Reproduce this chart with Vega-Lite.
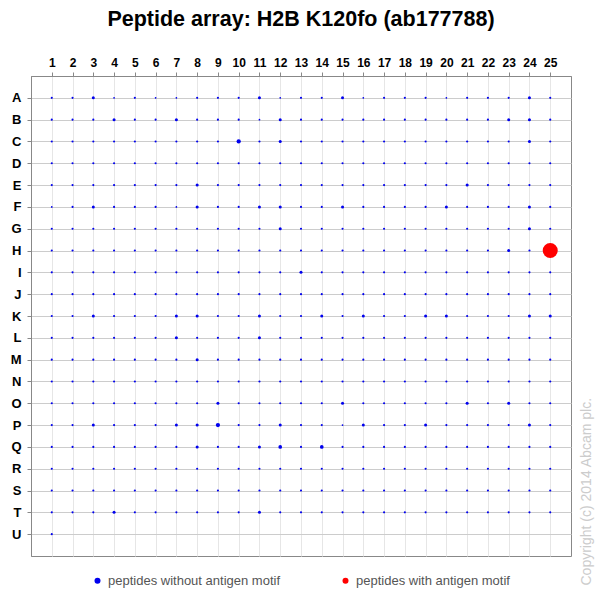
{
  "$schema": "https://vega.github.io/schema/vega-lite/v6.json",
  "width": 540,
  "height": 480,
  "autosize": "none",
  "padding": {"left": 31, "top": 76, "right": 28, "bottom": 43},
  "background": "white",
  "title": {"text": "Peptide array: H2B K120fo (ab177788)", "font": "Liberation Sans", "fontSize": 21.5, "fontWeight": "bold", "color": "#000000", "anchor": "middle", "offset": 26},
  "encoding": {
    "x": {
      "field": "col", "type": "ordinal",
      "scale": {"type": "point", "padding": 1},
      "axis": {"orient": "top", "title": null, "labelAngle": 0, "labelFont": "Liberation Sans", "labelFontWeight": "bold", "labelFontSize": 12, "labelColor": "#000000", "labelPadding": 3, "tickSize": 4, "tickColor": "#888888", "domainColor": "#888888", "grid": true, "gridColor": "#e6e6e6"}
    },
    "size": {"field": "signal", "type": "quantitative", "scale": {"domain": [0, 100], "range": [0, 227]}, "legend": null}
  },
  "layer": [
    {
      "data": {"values": [
        {"row":"A","col":1,"signal":2},{"row":"A","col":2,"signal":2},{"row":"A","col":3,"signal":4},{"row":"A","col":4,"signal":1.3},{"row":"A","col":5,"signal":2},{"row":"A","col":6,"signal":1.3},{"row":"A","col":7,"signal":1.3},{"row":"A","col":8,"signal":2},{"row":"A","col":9,"signal":2},{"row":"A","col":10,"signal":2},{"row":"A","col":11,"signal":4},{"row":"A","col":12,"signal":1.3},{"row":"A","col":13,"signal":2},{"row":"A","col":14,"signal":2},{"row":"A","col":15,"signal":4},{"row":"A","col":16,"signal":1.3},{"row":"A","col":17,"signal":2},{"row":"A","col":18,"signal":2},{"row":"A","col":19,"signal":2},{"row":"A","col":20,"signal":1.3},{"row":"A","col":21,"signal":2},{"row":"A","col":22,"signal":2},{"row":"A","col":23,"signal":2},{"row":"A","col":24,"signal":4},{"row":"A","col":25,"signal":2},
        {"row":"B","col":1,"signal":2},{"row":"B","col":2,"signal":2},{"row":"B","col":3,"signal":2},{"row":"B","col":4,"signal":4},{"row":"B","col":5,"signal":2},{"row":"B","col":6,"signal":2},{"row":"B","col":7,"signal":4},{"row":"B","col":8,"signal":2},{"row":"B","col":9,"signal":2},{"row":"B","col":10,"signal":2},{"row":"B","col":11,"signal":1.3},{"row":"B","col":12,"signal":4},{"row":"B","col":13,"signal":2},{"row":"B","col":14,"signal":2},{"row":"B","col":15,"signal":2},{"row":"B","col":16,"signal":2},{"row":"B","col":17,"signal":2},{"row":"B","col":18,"signal":2},{"row":"B","col":19,"signal":2},{"row":"B","col":20,"signal":2},{"row":"B","col":21,"signal":2},{"row":"B","col":22,"signal":2},{"row":"B","col":23,"signal":4},{"row":"B","col":24,"signal":4},{"row":"B","col":25,"signal":2},
        {"row":"C","col":1,"signal":2},{"row":"C","col":2,"signal":2},{"row":"C","col":3,"signal":2},{"row":"C","col":4,"signal":2},{"row":"C","col":5,"signal":2},{"row":"C","col":6,"signal":2},{"row":"C","col":7,"signal":2},{"row":"C","col":8,"signal":2},{"row":"C","col":9,"signal":2},{"row":"C","col":10,"signal":8},{"row":"C","col":11,"signal":2},{"row":"C","col":12,"signal":4},{"row":"C","col":13,"signal":2},{"row":"C","col":14,"signal":2},{"row":"C","col":15,"signal":2},{"row":"C","col":16,"signal":2},{"row":"C","col":17,"signal":2},{"row":"C","col":18,"signal":2},{"row":"C","col":19,"signal":2},{"row":"C","col":20,"signal":2},{"row":"C","col":21,"signal":2},{"row":"C","col":22,"signal":2},{"row":"C","col":23,"signal":2},{"row":"C","col":24,"signal":4},{"row":"C","col":25,"signal":2},
        {"row":"D","col":1,"signal":2},{"row":"D","col":2,"signal":2},{"row":"D","col":3,"signal":2},{"row":"D","col":4,"signal":2},{"row":"D","col":5,"signal":2},{"row":"D","col":6,"signal":2},{"row":"D","col":7,"signal":2},{"row":"D","col":8,"signal":2},{"row":"D","col":9,"signal":2},{"row":"D","col":10,"signal":2},{"row":"D","col":11,"signal":2},{"row":"D","col":12,"signal":2},{"row":"D","col":13,"signal":2},{"row":"D","col":14,"signal":2},{"row":"D","col":15,"signal":2},{"row":"D","col":16,"signal":2},{"row":"D","col":17,"signal":2},{"row":"D","col":18,"signal":2},{"row":"D","col":19,"signal":2},{"row":"D","col":20,"signal":2},{"row":"D","col":21,"signal":2},{"row":"D","col":22,"signal":2},{"row":"D","col":23,"signal":2},{"row":"D","col":24,"signal":2},{"row":"D","col":25,"signal":2},
        {"row":"E","col":1,"signal":2},{"row":"E","col":2,"signal":2},{"row":"E","col":3,"signal":2},{"row":"E","col":4,"signal":2},{"row":"E","col":5,"signal":2},{"row":"E","col":6,"signal":2},{"row":"E","col":7,"signal":2},{"row":"E","col":8,"signal":4},{"row":"E","col":9,"signal":2},{"row":"E","col":10,"signal":2},{"row":"E","col":11,"signal":2},{"row":"E","col":12,"signal":2},{"row":"E","col":13,"signal":2},{"row":"E","col":14,"signal":2},{"row":"E","col":15,"signal":2},{"row":"E","col":16,"signal":2},{"row":"E","col":17,"signal":2},{"row":"E","col":18,"signal":2},{"row":"E","col":19,"signal":2},{"row":"E","col":20,"signal":2},{"row":"E","col":21,"signal":4},{"row":"E","col":22,"signal":2},{"row":"E","col":23,"signal":2},{"row":"E","col":24,"signal":2},{"row":"E","col":25,"signal":2},
        {"row":"F","col":1,"signal":1.3},{"row":"F","col":2,"signal":2},{"row":"F","col":3,"signal":4},{"row":"F","col":4,"signal":2},{"row":"F","col":5,"signal":2},{"row":"F","col":6,"signal":2},{"row":"F","col":7,"signal":1.3},{"row":"F","col":8,"signal":4},{"row":"F","col":9,"signal":2},{"row":"F","col":10,"signal":2},{"row":"F","col":11,"signal":4},{"row":"F","col":12,"signal":4},{"row":"F","col":13,"signal":2},{"row":"F","col":14,"signal":2},{"row":"F","col":15,"signal":4},{"row":"F","col":16,"signal":2},{"row":"F","col":17,"signal":2},{"row":"F","col":18,"signal":2},{"row":"F","col":19,"signal":2},{"row":"F","col":20,"signal":4},{"row":"F","col":21,"signal":2},{"row":"F","col":22,"signal":2},{"row":"F","col":23,"signal":2},{"row":"F","col":24,"signal":4},{"row":"F","col":25,"signal":2},
        {"row":"G","col":1,"signal":2},{"row":"G","col":2,"signal":2},{"row":"G","col":3,"signal":2},{"row":"G","col":4,"signal":2},{"row":"G","col":5,"signal":2},{"row":"G","col":6,"signal":2},{"row":"G","col":7,"signal":2},{"row":"G","col":8,"signal":2},{"row":"G","col":9,"signal":2},{"row":"G","col":10,"signal":2},{"row":"G","col":11,"signal":2},{"row":"G","col":12,"signal":4},{"row":"G","col":13,"signal":2},{"row":"G","col":14,"signal":2},{"row":"G","col":15,"signal":2},{"row":"G","col":16,"signal":2},{"row":"G","col":17,"signal":2},{"row":"G","col":18,"signal":2},{"row":"G","col":19,"signal":2},{"row":"G","col":20,"signal":2},{"row":"G","col":21,"signal":2},{"row":"G","col":22,"signal":2},{"row":"G","col":23,"signal":2},{"row":"G","col":24,"signal":4},{"row":"G","col":25,"signal":2},
        {"row":"H","col":1,"signal":2},{"row":"H","col":2,"signal":2},{"row":"H","col":3,"signal":2},{"row":"H","col":4,"signal":2},{"row":"H","col":5,"signal":2},{"row":"H","col":6,"signal":2},{"row":"H","col":7,"signal":2},{"row":"H","col":8,"signal":2},{"row":"H","col":9,"signal":2},{"row":"H","col":10,"signal":2},{"row":"H","col":11,"signal":2},{"row":"H","col":12,"signal":2},{"row":"H","col":13,"signal":2},{"row":"H","col":14,"signal":2},{"row":"H","col":15,"signal":2},{"row":"H","col":16,"signal":2},{"row":"H","col":17,"signal":2},{"row":"H","col":18,"signal":2},{"row":"H","col":19,"signal":2},{"row":"H","col":20,"signal":2},{"row":"H","col":21,"signal":2},{"row":"H","col":22,"signal":2},{"row":"H","col":23,"signal":4},{"row":"H","col":24,"signal":2},
        {"row":"I","col":1,"signal":2},{"row":"I","col":2,"signal":2},{"row":"I","col":3,"signal":2},{"row":"I","col":4,"signal":2},{"row":"I","col":5,"signal":2},{"row":"I","col":6,"signal":2},{"row":"I","col":7,"signal":2},{"row":"I","col":8,"signal":2},{"row":"I","col":9,"signal":2},{"row":"I","col":10,"signal":2},{"row":"I","col":11,"signal":2},{"row":"I","col":12,"signal":2},{"row":"I","col":13,"signal":4},{"row":"I","col":14,"signal":2},{"row":"I","col":15,"signal":2},{"row":"I","col":16,"signal":2},{"row":"I","col":17,"signal":2},{"row":"I","col":18,"signal":2},{"row":"I","col":19,"signal":2},{"row":"I","col":20,"signal":2},{"row":"I","col":21,"signal":2},{"row":"I","col":22,"signal":2},{"row":"I","col":23,"signal":2},{"row":"I","col":24,"signal":2},{"row":"I","col":25,"signal":2},
        {"row":"J","col":1,"signal":2},{"row":"J","col":2,"signal":2},{"row":"J","col":3,"signal":2},{"row":"J","col":4,"signal":2},{"row":"J","col":5,"signal":2},{"row":"J","col":6,"signal":2},{"row":"J","col":7,"signal":2},{"row":"J","col":8,"signal":2},{"row":"J","col":9,"signal":2},{"row":"J","col":10,"signal":2},{"row":"J","col":11,"signal":2},{"row":"J","col":12,"signal":2},{"row":"J","col":13,"signal":2},{"row":"J","col":14,"signal":2},{"row":"J","col":15,"signal":2},{"row":"J","col":16,"signal":2},{"row":"J","col":17,"signal":2},{"row":"J","col":18,"signal":2},{"row":"J","col":19,"signal":2},{"row":"J","col":20,"signal":2},{"row":"J","col":21,"signal":2},{"row":"J","col":22,"signal":2},{"row":"J","col":23,"signal":2},{"row":"J","col":24,"signal":2},{"row":"J","col":25,"signal":2},
        {"row":"K","col":1,"signal":2},{"row":"K","col":2,"signal":2},{"row":"K","col":3,"signal":4},{"row":"K","col":4,"signal":2},{"row":"K","col":5,"signal":2},{"row":"K","col":6,"signal":2},{"row":"K","col":7,"signal":4},{"row":"K","col":8,"signal":4},{"row":"K","col":9,"signal":2},{"row":"K","col":10,"signal":2},{"row":"K","col":11,"signal":4},{"row":"K","col":12,"signal":2},{"row":"K","col":13,"signal":2},{"row":"K","col":14,"signal":4},{"row":"K","col":15,"signal":2},{"row":"K","col":16,"signal":4},{"row":"K","col":17,"signal":2},{"row":"K","col":18,"signal":2},{"row":"K","col":19,"signal":4},{"row":"K","col":20,"signal":4},{"row":"K","col":21,"signal":2},{"row":"K","col":22,"signal":2},{"row":"K","col":23,"signal":2},{"row":"K","col":24,"signal":4},{"row":"K","col":25,"signal":4},
        {"row":"L","col":1,"signal":2},{"row":"L","col":2,"signal":2},{"row":"L","col":3,"signal":2},{"row":"L","col":4,"signal":2},{"row":"L","col":5,"signal":2},{"row":"L","col":6,"signal":2},{"row":"L","col":7,"signal":4},{"row":"L","col":8,"signal":2},{"row":"L","col":9,"signal":2},{"row":"L","col":10,"signal":2},{"row":"L","col":11,"signal":4},{"row":"L","col":12,"signal":2},{"row":"L","col":13,"signal":2},{"row":"L","col":14,"signal":2},{"row":"L","col":15,"signal":2},{"row":"L","col":16,"signal":2},{"row":"L","col":17,"signal":2},{"row":"L","col":18,"signal":2},{"row":"L","col":19,"signal":2},{"row":"L","col":20,"signal":2},{"row":"L","col":21,"signal":2},{"row":"L","col":22,"signal":2},{"row":"L","col":23,"signal":2},{"row":"L","col":24,"signal":2},{"row":"L","col":25,"signal":2},
        {"row":"M","col":1,"signal":2},{"row":"M","col":2,"signal":2},{"row":"M","col":3,"signal":2},{"row":"M","col":4,"signal":2},{"row":"M","col":5,"signal":2},{"row":"M","col":6,"signal":2},{"row":"M","col":7,"signal":2},{"row":"M","col":8,"signal":4},{"row":"M","col":9,"signal":2},{"row":"M","col":10,"signal":2},{"row":"M","col":11,"signal":2},{"row":"M","col":12,"signal":2},{"row":"M","col":13,"signal":2},{"row":"M","col":14,"signal":2},{"row":"M","col":15,"signal":2},{"row":"M","col":16,"signal":2},{"row":"M","col":17,"signal":2},{"row":"M","col":18,"signal":2},{"row":"M","col":19,"signal":2},{"row":"M","col":20,"signal":2},{"row":"M","col":21,"signal":2},{"row":"M","col":22,"signal":2},{"row":"M","col":23,"signal":2},{"row":"M","col":24,"signal":2},{"row":"M","col":25,"signal":2},
        {"row":"N","col":1,"signal":2},{"row":"N","col":2,"signal":2},{"row":"N","col":3,"signal":2},{"row":"N","col":4,"signal":2},{"row":"N","col":5,"signal":2},{"row":"N","col":6,"signal":2},{"row":"N","col":7,"signal":2},{"row":"N","col":8,"signal":2},{"row":"N","col":9,"signal":2},{"row":"N","col":10,"signal":2},{"row":"N","col":11,"signal":2},{"row":"N","col":12,"signal":2},{"row":"N","col":13,"signal":2},{"row":"N","col":14,"signal":2},{"row":"N","col":15,"signal":2},{"row":"N","col":16,"signal":2},{"row":"N","col":17,"signal":2},{"row":"N","col":18,"signal":2},{"row":"N","col":19,"signal":2},{"row":"N","col":20,"signal":2},{"row":"N","col":21,"signal":2},{"row":"N","col":22,"signal":2},{"row":"N","col":23,"signal":2},{"row":"N","col":24,"signal":2},{"row":"N","col":25,"signal":2},
        {"row":"O","col":1,"signal":2},{"row":"O","col":2,"signal":2},{"row":"O","col":3,"signal":2},{"row":"O","col":4,"signal":2},{"row":"O","col":5,"signal":2},{"row":"O","col":6,"signal":2},{"row":"O","col":7,"signal":2},{"row":"O","col":8,"signal":2},{"row":"O","col":9,"signal":4},{"row":"O","col":10,"signal":2},{"row":"O","col":11,"signal":2},{"row":"O","col":12,"signal":2},{"row":"O","col":13,"signal":2},{"row":"O","col":14,"signal":2},{"row":"O","col":15,"signal":4},{"row":"O","col":16,"signal":2},{"row":"O","col":17,"signal":2},{"row":"O","col":18,"signal":2},{"row":"O","col":19,"signal":2},{"row":"O","col":20,"signal":2},{"row":"O","col":21,"signal":4},{"row":"O","col":22,"signal":2},{"row":"O","col":23,"signal":4},{"row":"O","col":24,"signal":2},{"row":"O","col":25,"signal":2},
        {"row":"P","col":1,"signal":2},{"row":"P","col":2,"signal":2},{"row":"P","col":3,"signal":4},{"row":"P","col":4,"signal":2},{"row":"P","col":5,"signal":2},{"row":"P","col":6,"signal":2},{"row":"P","col":7,"signal":4},{"row":"P","col":8,"signal":4},{"row":"P","col":9,"signal":8},{"row":"P","col":10,"signal":2},{"row":"P","col":11,"signal":2},{"row":"P","col":12,"signal":4},{"row":"P","col":13,"signal":2},{"row":"P","col":14,"signal":2},{"row":"P","col":15,"signal":1.3},{"row":"P","col":16,"signal":4},{"row":"P","col":17,"signal":2},{"row":"P","col":18,"signal":2},{"row":"P","col":19,"signal":4},{"row":"P","col":20,"signal":2},{"row":"P","col":21,"signal":2},{"row":"P","col":22,"signal":2},{"row":"P","col":23,"signal":2},{"row":"P","col":24,"signal":4},{"row":"P","col":25,"signal":2},
        {"row":"Q","col":1,"signal":2},{"row":"Q","col":2,"signal":2},{"row":"Q","col":3,"signal":2},{"row":"Q","col":4,"signal":2},{"row":"Q","col":5,"signal":2},{"row":"Q","col":6,"signal":2},{"row":"Q","col":7,"signal":2},{"row":"Q","col":8,"signal":4},{"row":"Q","col":9,"signal":2},{"row":"Q","col":10,"signal":2},{"row":"Q","col":11,"signal":4},{"row":"Q","col":12,"signal":6},{"row":"Q","col":13,"signal":2},{"row":"Q","col":14,"signal":6},{"row":"Q","col":15,"signal":2},{"row":"Q","col":16,"signal":2},{"row":"Q","col":17,"signal":2},{"row":"Q","col":18,"signal":2},{"row":"Q","col":19,"signal":2},{"row":"Q","col":20,"signal":2},{"row":"Q","col":21,"signal":2},{"row":"Q","col":22,"signal":2},{"row":"Q","col":23,"signal":2},{"row":"Q","col":24,"signal":2},{"row":"Q","col":25,"signal":2},
        {"row":"R","col":1,"signal":2},{"row":"R","col":2,"signal":2},{"row":"R","col":3,"signal":2},{"row":"R","col":4,"signal":2},{"row":"R","col":5,"signal":2},{"row":"R","col":6,"signal":2},{"row":"R","col":7,"signal":2},{"row":"R","col":8,"signal":2},{"row":"R","col":9,"signal":2},{"row":"R","col":10,"signal":2},{"row":"R","col":11,"signal":2},{"row":"R","col":12,"signal":2},{"row":"R","col":13,"signal":2},{"row":"R","col":14,"signal":2},{"row":"R","col":15,"signal":2},{"row":"R","col":16,"signal":2},{"row":"R","col":17,"signal":2},{"row":"R","col":18,"signal":2},{"row":"R","col":19,"signal":2},{"row":"R","col":20,"signal":2},{"row":"R","col":21,"signal":2},{"row":"R","col":22,"signal":2},{"row":"R","col":23,"signal":2},{"row":"R","col":24,"signal":2},{"row":"R","col":25,"signal":2},
        {"row":"S","col":1,"signal":2},{"row":"S","col":2,"signal":2},{"row":"S","col":3,"signal":2},{"row":"S","col":4,"signal":2},{"row":"S","col":5,"signal":2},{"row":"S","col":6,"signal":2},{"row":"S","col":7,"signal":2},{"row":"S","col":8,"signal":2},{"row":"S","col":9,"signal":2},{"row":"S","col":10,"signal":2},{"row":"S","col":11,"signal":2},{"row":"S","col":12,"signal":2},{"row":"S","col":13,"signal":2},{"row":"S","col":14,"signal":2},{"row":"S","col":15,"signal":2},{"row":"S","col":16,"signal":2},{"row":"S","col":17,"signal":2},{"row":"S","col":18,"signal":2},{"row":"S","col":19,"signal":2},{"row":"S","col":20,"signal":2},{"row":"S","col":21,"signal":2},{"row":"S","col":22,"signal":2},{"row":"S","col":23,"signal":2},{"row":"S","col":24,"signal":2},{"row":"S","col":25,"signal":2},
        {"row":"T","col":1,"signal":2},{"row":"T","col":2,"signal":2},{"row":"T","col":3,"signal":2},{"row":"T","col":4,"signal":4},{"row":"T","col":5,"signal":2},{"row":"T","col":6,"signal":2},{"row":"T","col":7,"signal":2},{"row":"T","col":8,"signal":2},{"row":"T","col":9,"signal":2},{"row":"T","col":10,"signal":2},{"row":"T","col":11,"signal":4},{"row":"T","col":12,"signal":2},{"row":"T","col":13,"signal":2},{"row":"T","col":14,"signal":2},{"row":"T","col":15,"signal":2},{"row":"T","col":16,"signal":2},{"row":"T","col":17,"signal":2},{"row":"T","col":18,"signal":2},{"row":"T","col":19,"signal":2},{"row":"T","col":20,"signal":2},{"row":"T","col":21,"signal":2},{"row":"T","col":22,"signal":2},{"row":"T","col":23,"signal":2},{"row":"T","col":24,"signal":2},{"row":"T","col":25,"signal":2},
        {"row":"U","col":1,"signal":2}
      ]},
      "mark": {"type": "circle", "opacity": 1},
      "encoding": {
        "y": {
          "field": "row", "type": "ordinal",
          "scale": {"type": "point", "padding": 1},
          "axis": {"orient": "left", "title": null, "labelFont": "Liberation Sans", "labelFontWeight": "bold", "labelFontSize": 13, "labelColor": "#000000", "labelPadding": 6, "tickSize": 4, "tickColor": "#888888", "domainColor": "#888888", "grid": true, "gridColor": "#cccccc"}
        },
        "color": {
          "datum": "peptides without antigen motif", "type": "nominal",
          "scale": {"domain": ["peptides without antigen motif", "peptides with antigen motif"], "range": ["#0000ee", "#ff0000"]},
          "legend": {"title": null, "orient": "none", "legendX": 60, "legendY": 498, "direction": "horizontal", "symbolType": "circle", "symbolSize": 36, "symbolOpacity": 1, "labelFont": "Liberation Sans", "labelFontSize": 13, "labelColor": "#555555", "labelOffset": 4, "labelLimit": 400, "columnPadding": 59}
        }
      }
    },
    {
      "data": {"values": [{"row": "H", "col": 25, "signal": 100}]},
      "mark": {"type": "circle", "opacity": 1},
      "encoding": {
        "y": {
          "field": "row", "type": "ordinal",
          "axis": {"orient": "right", "title": "Copyright (c) 2014 Abcam plc.", "labels": false, "ticks": false, "domain": false, "grid": false, "titleFont": "Liberation Sans", "titleFontSize": 14, "titleFontWeight": "normal", "titleColor": "#cccccc", "titleAngle": 270, "titleAlign": "left", "titleBaseline": "middle", "titleX": 15, "titleY": 509}
        },
        "color": {"datum": "peptides with antigen motif", "type": "nominal"}
      }
    }
  ],
  "resolve": {"axis": {"y": "independent"}},
  "config": {
    "view": {"stroke": "#888888"},
    "axis": {"labelFont": "Liberation Sans"}
  }
}
